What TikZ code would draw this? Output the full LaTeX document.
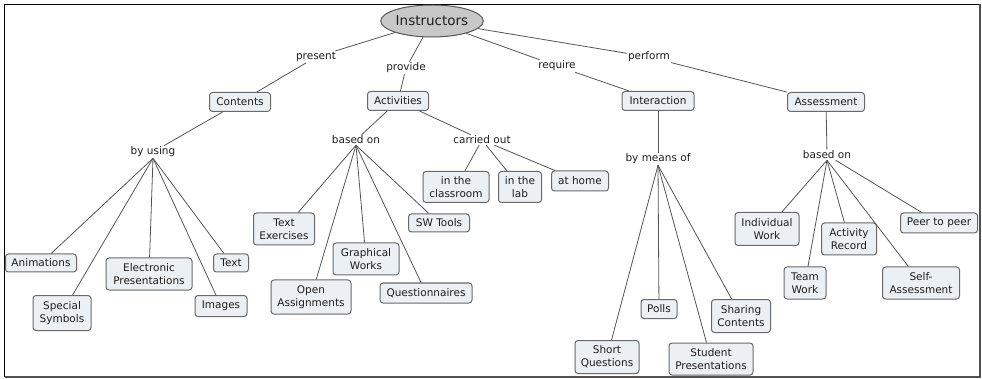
\documentclass[tikz,border=0pt]{standalone}
\usepackage{fontspec}
\setmainfont{DejaVu Sans}
\usetikzlibrary{shapes.geometric}
\definecolor{conceptfill}{RGB}{234,240,244}
\definecolor{conceptline}{RGB}{105,105,105}
\definecolor{linkline}{RGB}{85,85,85}
\definecolor{inkgray}{RGB}{30,30,30}
\definecolor{rootfill}{RGB}{200,200,200}
\definecolor{framegray}{RGB}{80,80,80}

\begin{document}
\begin{tikzpicture}[x=1pt,y=-1pt,
  concept/.style={draw=conceptline, fill=conceptfill, rounded corners=3pt,
    line width=1pt, align=center, inner sep=1.5pt, text=inkgray,
    font=\fontsize{10.5}{13}\selectfont},
  phrase/.style={inner sep=1pt, text=inkgray, align=center,
    font=\fontsize{10.5}{13}\selectfont},
  root/.style={ellipse, draw=linkline, fill=rootfill, line width=1pt,
    inner sep=0pt, text=inkgray, font=\fontsize{13.5}{15}\selectfont},
  link/.style={draw=linkline, line width=0.8pt}]

\useasboundingbox (0,0) rectangle (982,379);

% outer frame
\draw[black, line width=1pt] (4.5,377) -- (4.5,4.5) -- (980,4.5);
\draw[framegray, line width=2pt] (980,4.5) -- (980,377) -- (4.5,377);

% root concept
\node[root, minimum width=90pt, minimum height=32pt] (instr) at (432,21) {Instructors};

% first-level linking phrases
\node[phrase] (present) at (316,57) {present};
\node[phrase] (provide) at (406,68) {provide};
\node[phrase] (require) at (557,66) {require};
\node[phrase] (perform) at (649,57) {perform};

% first-level concepts
\node[concept, minimum width=61pt, minimum height=19pt] (contents)    at (240,102) {Contents};
\node[concept, minimum width=61pt, minimum height=19pt] (activities)  at (398,101) {Activities};
\node[concept, minimum width=72pt, minimum height=19pt] (interaction) at (658,101) {Interaction};
\node[concept, minimum width=77pt, minimum height=19pt] (assessment)  at (826,102) {Assessment};

% second-level linking phrases
\node[phrase] (byusing)    at (153,152) {by using};
\node[phrase] (basedonA)   at (356,140) {based on};
\node[phrase] (carriedout) at (482,140) {carried out};
\node[phrase] (bymeans)    at (658,159) {by means of};
\node[phrase] (basedonB)   at (827,155) {based on};

% contents
\node[concept, minimum width=71pt, minimum height=18pt] (anim)       at (41,263)  {Animations};
\node[concept, minimum width=58pt, minimum height=35pt] (special)    at (62,313)  {Special\\Symbols};
\node[concept, minimum width=86pt, minimum height=32pt] (electronic) at (149,274) {Electronic\\Presentations};
\node[concept, minimum width=52pt, minimum height=21pt] (images)     at (221,306) {Images};
\node[concept, minimum width=35pt, minimum height=18pt] (text)       at (231,263) {Text};

% activities
\node[concept, minimum width=61pt, minimum height=32pt] (textex)     at (284,229) {Text\\Exercises};
\node[concept, minimum width=80pt, minimum height=34pt] (openassign) at (311,297) {Open\\Assignments};
\node[concept, minimum width=66pt, minimum height=32pt] (graphical)  at (366,259) {Graphical\\Works};
\node[concept, minimum width=92pt, minimum height=20pt] (question)   at (426,293) {Questionnaires};
\node[concept, minimum width=61pt, minimum height=18pt] (swtools)    at (439,223) {SW Tools};
\node[concept, minimum width=66pt, minimum height=31pt] (classroom)  at (456,187) {in the\\classroom};
\node[concept, minimum width=43pt, minimum height=31pt] (lab)        at (520,187) {in the\\lab};
\node[concept, minimum width=57pt, minimum height=20pt] (home)       at (580,181) {at home};

% interaction
\node[concept, minimum width=64pt, minimum height=33pt] (shortq)   at (607,357) {Short\\Questions};
\node[concept, minimum width=36pt, minimum height=19pt] (polls)    at (659,309) {Polls};
\node[concept, minimum width=84pt, minimum height=32pt] (studentp) at (711,359) {Student\\Presentations};
\node[concept, minimum width=59pt, minimum height=33pt] (sharing)  at (741,316) {Sharing\\Contents};

% assessment
\node[concept, minimum width=64pt, minimum height=33pt] (indiv)  at (767,229) {Individual\\Work};
\node[concept, minimum width=42pt, minimum height=32pt] (team)   at (805,283) {Team\\Work};
\node[concept, minimum width=55pt, minimum height=32pt] (actrec) at (849,239) {Activity\\Record};
\node[concept, minimum width=77pt, minimum height=32pt] (selfa)  at (921,283) {Self-\\Assessment};
\node[concept, minimum width=77pt, minimum height=20pt] (peer)   at (939,223) {Peer to peer};

% connectors: root
\draw[link] (instr) -- (present);
\draw[link] (instr) -- (provide);
\draw[link] (instr) -- (require);
\draw[link] (instr) -- (perform);
\draw[link] (present) -- (contents);
\draw[link] (provide) -- (activities);
\draw[link] (require) -- (interaction);
\draw[link] (perform) -- (assessment);

% connectors: contents
\draw[link] (contents) -- (byusing);
\foreach \n in {anim,special,electronic,images,text}
  \draw[link] (byusing.south) -- (\n);

% connectors: activities
\draw[link] (activities) -- (basedonA);
\draw[link] (activities) -- (carriedout);
\foreach \n in {textex,openassign,graphical,question,swtools}
  \draw[link] (basedonA.south) -- (\n);
\foreach \n in {classroom,lab,home}
  \draw[link] (carriedout) -- (\n);

% connectors: interaction
\draw[link] (interaction) -- (bymeans);
\foreach \n in {shortq,polls,studentp,sharing}
  \draw[link] (bymeans.south) -- (\n);

% connectors: assessment
\draw[link] (assessment) -- (basedonB);
\foreach \n in {indiv,team,actrec,selfa}
  \draw[link] (basedonB.south) -- (\n);
\draw[link] (basedonB) -- (peer);

\end{tikzpicture}
\end{document}
